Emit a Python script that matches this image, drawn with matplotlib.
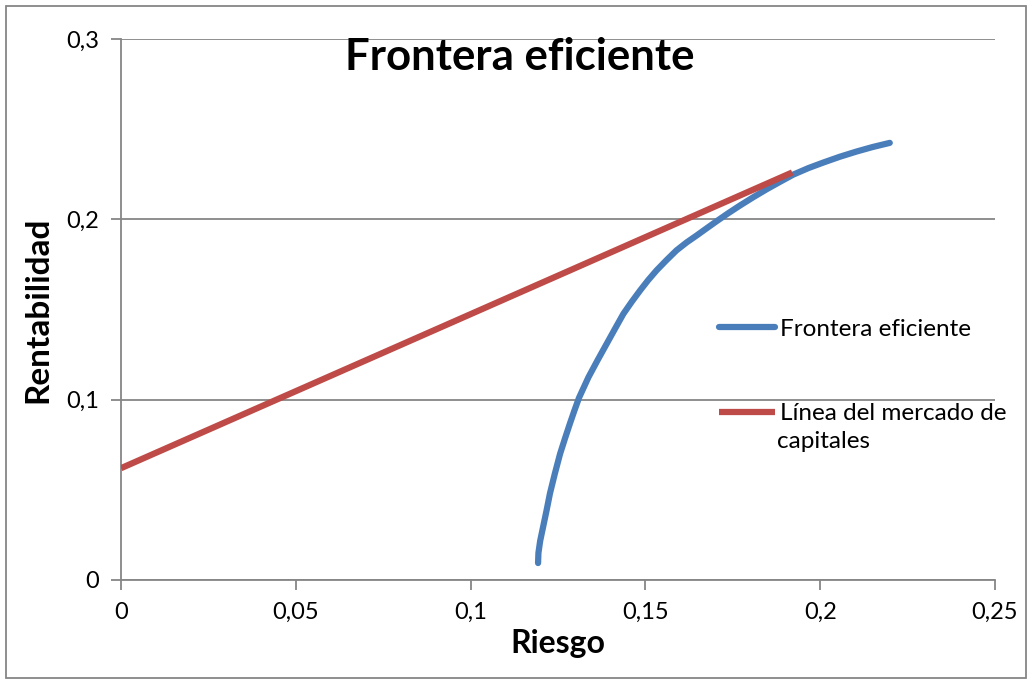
import numpy as np
import matplotlib.pyplot as plt
from matplotlib.patches import Rectangle

# Datos
riesgo_frontera = [0.1193, 0.1194, 0.1199, 0.1208, 0.1217, 0.1227, 0.1241, 0.1256,
                   0.1270, 0.1284, 0.1297, 0.1310, 0.1337, 0.1363, 0.1389, 0.1413,
                   0.1437, 0.1461, 0.1485, 0.1508, 0.1532, 0.1560, 0.1589, 0.1618,
                   0.1647, 0.1675, 0.1704, 0.1737, 0.1770, 0.1808, 0.1847, 0.1885,
                   0.1923, 0.1966, 0.2009, 0.2056, 0.2104, 0.2150, 0.2199]
rent_frontera = [0.0094, 0.0150, 0.0217, 0.0300, 0.0383, 0.0480, 0.0590, 0.0700,
                 0.0785, 0.0867, 0.0940, 0.1010, 0.1124, 0.1218, 0.1309, 0.1393,
                 0.1476, 0.1543, 0.1606, 0.1663, 0.1717, 0.1773, 0.1828, 0.1872,
                 0.1911, 0.1950, 0.1990, 0.2034, 0.2076, 0.2122, 0.2167, 0.2208,
                 0.2248, 0.2284, 0.2315, 0.2347, 0.2376, 0.2401, 0.2424]
riesgo_lmc = [0.0, 0.192]
rent_lmc = [0.062, 0.226]

xticks = [0, 0.05, 0.1, 0.15, 0.2, 0.25]
xtick_labels = ['0', '0,05', '0,1', '0,15', '0,2', '0,25']
yticks = [0, 0.1, 0.2, 0.3]
ytick_labels = ['0', '0,1', '0,2', '0,3']

plt.rcParams['font.family'] = ['Lato', 'DejaVu Sans']
gris = '#868686'

fig = plt.figure(figsize=(10.32, 6.83), dpi=100)
W, H = 1032, 683
ax = fig.add_axes([121 / W, 1 - 580 / H, (995 - 121) / W, (580 - 39) / H])

ax.plot(riesgo_frontera, rent_frontera, color='#4a7ebb', lw=4.5, solid_capstyle='round',
        solid_joinstyle='round', label='Frontera eficiente', zorder=3)
ax.plot(riesgo_lmc, rent_lmc, color='#be4b48', lw=4.5, solid_capstyle='butt',
        label='Línea del mercado de', zorder=4)

ax.set_xlim(0, 0.25)
ax.set_ylim(0, 0.3)
ax.set_xticks(xticks)
ax.set_xticklabels(xtick_labels)
ax.set_yticks(yticks)
ax.set_yticklabels(ytick_labels)
ax.tick_params(labelsize=17, color=gris, width=1.3, length=7, pad=9)
ax.grid(axis='y', color=gris, lw=1.3)
ax.set_axisbelow(True)
for s in ['top', 'right']:
    ax.spines[s].set_visible(False)
for s in ['left', 'bottom']:
    ax.spines[s].set_color(gris)
    ax.spines[s].set_linewidth(1.3)

ax.set_xlabel('Riesgo', fontsize=23, fontweight='bold', labelpad=4)
ax.set_ylabel('Rentabilidad', fontsize=24, fontweight='bold', labelpad=10)

fig.text(520 / W, 1 - 57 / H, 'Frontera eficiente', fontsize=31.5, fontweight='bold',
         ha='center', va='center')

# leyenda: la segunda entrada continua en una linea aparte
leg = ax.legend(loc='upper left', bbox_to_anchor=(697 / W, 1 - 297 / H),
                bbox_transform=fig.transFigure, frameon=False, fontsize=17.5,
                handlelength=2.3, handletextpad=0.2, labelspacing=2.6)
fig.text(777 / W, 1 - 441 / H, 'capitales', fontsize=17.5, ha='left', va='center')

fig.patches.append(Rectangle((6 / W, 5 / H), 1020 / W, 672 / H, transform=fig.transFigure,
                             fill=False, edgecolor=gris, lw=1.3))

plt.savefig('out.png', dpi=100)
